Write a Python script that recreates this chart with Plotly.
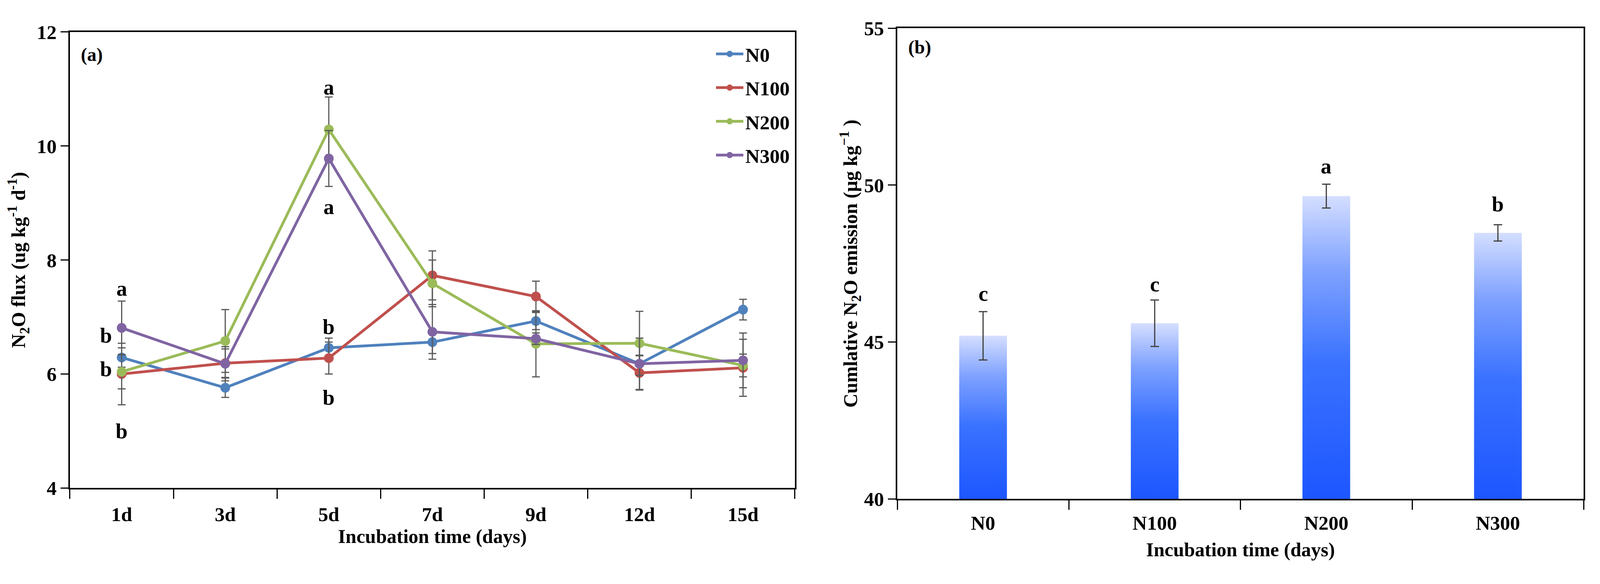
import plotly.graph_objects as go

# ---------------- data ----------------
days = ["1d", "3d", "5d", "7d", "9d", "12d", "15d"]
series_names = ["N0", "N100", "N200", "N300"]
n0 = [6.29, 5.76, 6.46, 6.56, 6.93, 6.18, 7.13]
n100 = [6.00, 6.19, 6.28, 7.73, 7.36, 6.02, 6.11]
n200 = [6.04, 6.58, 10.29, 7.59, 6.53, 6.54, 6.15]
n300 = [6.81, 6.18, 9.78, 6.74, 6.62, 6.18, 6.24]
n0_err = [0.17, 0.17, 0.17, 0.20, 0.15, 0.15, 0.18]
n100_err = [0.54, 0.25, 0.28, 0.43, 0.27, 0.30, 0.50]
n200_err = [0.30, 0.55, 0.57, 0.41, 0.58, 0.56, 0.20]
n300_err = [0.47, 0.30, 0.49, 0.48, 0.10, 0.45, 0.48]

flux_letters = ["a", "b", "b", "b", "a", "a", "b", "b"]
flux_letter_x = [0, -0.15, -0.15, 0, 2, 2, 2, 2]
flux_letter_y = [7.5, 6.68, 6.09, 5.0, 11.03, 8.93, 6.83, 5.59]

treatments = ["N0", "N100", "N200", "N300"]
cumulative = [45.2, 45.6, 49.65, 48.48]
cumulative_err = [0.77, 0.74, 0.38, 0.26]
cum_letters = ["c", "c", "a", "b"]
cum_letter_y = [46.55, 46.85, 50.6, 49.4]

colors = ["#4F81BD", "#C0504D", "#9BBB59", "#8064A2"]
FONT = "Liberation Serif"
W, H = 4326, 1495

fig = go.Figure()

# ---------------- panel (a) ----------------
xs = list(range(len(days)))
for name, vals, errs, col in zip(series_names, [n0, n100, n200, n300],
                                 [n0_err, n100_err, n200_err, n300_err], colors):
    fig.add_trace(go.Scatter(
        x=xs, y=vals, name=name, legendgroup=name, mode="lines+markers",
        line=dict(color=col, width=7),
        marker=dict(color=col, size=25),
        error_y=dict(type="data", array=errs, visible=True, color="#595959",
                     thickness=3, width=10),
        xaxis="x", yaxis="y"))

# ---------------- panel (b) ----------------
half = 0.139
bar_scale = [[0, "#1d56ff"], [0.45, "#3a72ff"], [0.75, "#7ea1ff"], [1, "#d4deff"]]
for i, (t, v) in enumerate(zip(treatments, cumulative)):
    fig.add_trace(go.Scatter(
        x=[i - half, i + half, i + half, i - half, i - half],
        y=[40, 40, v, v, 40],
        fill="toself", mode="lines", line=dict(width=0, color="rgba(0,0,0,0)"),
        fillgradient=dict(type="vertical", colorscale=bar_scale),
        showlegend=False, hoverinfo="skip", xaxis="x2", yaxis="y2"))
fig.add_trace(go.Scatter(
    x=list(range(len(treatments))), y=cumulative, mode="markers",
    marker=dict(size=1, color="rgba(0,0,0,0)"),
    error_y=dict(type="data", array=cumulative_err, visible=True, color="#404040",
                 thickness=3, width=11),
    showlegend=False, xaxis="x2", yaxis="y2"))

# ---------------- annotations ----------------
letter_font = dict(family=FONT, size=55, color="black", weight="bold")
ann = []
for t, x, y in zip(flux_letters, flux_letter_x, flux_letter_y):
    ann.append(dict(text=t, x=x, y=y, xref="x", yref="y", showarrow=False,
                    font=letter_font))
for i, (t, y) in enumerate(zip(cum_letters, cum_letter_y)):
    ann.append(dict(text=t, x=i, y=y, xref="x2", yref="y2", showarrow=False,
                    font=letter_font))
panel_font = dict(family=FONT, size=48, color="black", weight="bold")
ann.append(dict(text="(a)", x=248 / W, y=1 - 117 / H, xref="paper", yref="paper",
                xanchor="center", yanchor="middle", showarrow=False, font=panel_font))
ann.append(dict(text="(b)", x=2487 / W, y=1 - 98 / H, xref="paper", yref="paper",
                xanchor="center", yanchor="middle", showarrow=False, font=panel_font))

tickfont = dict(family=FONT, size=51, color="black", weight="bold")
titlefont = dict(family=FONT, size=50, color="black", weight="bold")

common_axis = dict(showline=True, linecolor="black", linewidth=3.5, mirror=True,
                   showgrid=False, zeroline=False, tickfont=tickfont)

fig.update_layout(
    autosize=True,
    paper_bgcolor="white", plot_bgcolor="white",
    margin=dict(l=0, r=0, t=0, b=0, pad=0),
    font=dict(family=FONT, color="black", weight="bold"),
    annotations=ann,
    showlegend=True,
    legend=dict(x=0.4463, y=0.9504, xanchor="left", yanchor="top",
                font=dict(family=FONT, size=51, color="black", weight="bold"),
                bgcolor="rgba(0,0,0,0)", tracegroupgap=17, itemwidth=70),
    xaxis=dict(domain=[189 / W, 2149 / W], range=[-0.5, 6.5],
               tickvals=xs, ticktext=days, ticks="", ticklabelstandoff=20,
               minor=dict(tick0=-0.5, dtick=1, ticks="outside", ticklen=24,
                          tickwidth=3, tickcolor="black"),
               title=dict(text="Incubation time (days)", font=titlefont, standoff=12),
               anchor="y", **common_axis),
    yaxis=dict(domain=[1 - 1270 / H, 1 - 57 / H], range=[4, 12],
               tickvals=[4, 6, 8, 10, 12], ticks="outside", ticklen=20, tickwidth=3,
               tickcolor="black",
               title=dict(text="N<sub>2</sub>O flux (ug kg<sup>-1</sup> d<sup>-1</sup>)",
                          font=titlefont, standoff=14),
               anchor="x", **common_axis),
    xaxis2=dict(domain=[2426 / W, 4282 / W], range=[-0.5, 3.5],
                tickvals=list(range(len(treatments))), ticktext=treatments, ticks="",
                ticklabelstandoff=14,
                minor=dict(tick0=-0.5, dtick=1, ticks="outside", ticklen=24,
                           tickwidth=3, tickcolor="black"),
                title=dict(text="Incubation time (days)", font=titlefont, standoff=24),
                anchor="y2", **common_axis),
    yaxis2=dict(domain=[1 - 1299 / H, 1 - 47 / H], range=[40, 55],
                tickvals=[40, 45, 50, 55], ticks="outside", ticklen=20, tickwidth=3,
                tickcolor="black",
                title=dict(text="Cumlative N<sub>2</sub>O emission (μg kg<sup>−1</sup> )",
                           font=titlefont, standoff=2),
                anchor="x2", **common_axis),
)

fig.write_html(
    "out.html",
    default_width="100vw",
    default_height="100vh",
    config={"responsive": True, "displayModeBar": False},
    post_script="document.body.style.margin='0';document.body.style.overflow='hidden';"
                "document.documentElement.style.overflow='hidden';",
)
